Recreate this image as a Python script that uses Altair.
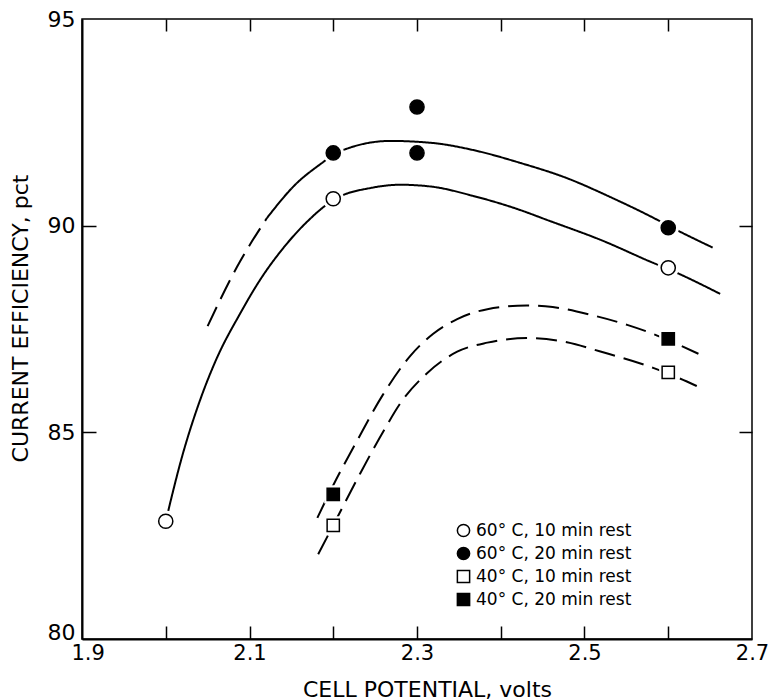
import altair as alt
import pandas as pd

FONT = "DejaVu Sans"

# ---------------- data ----------------
series_names = ["60° C, 10 min rest", "60° C, 20 min rest",
                "40° C, 10 min rest", "40° C, 20 min rest"]
series_shapes = ["circle", "circle", "square", "square"]
series_fills = ["white", "black", "white", "black"]
series_strokes = ["black", "black", "black", "black"]

# measured points
pts_60_10_x = [2.0, 2.2, 2.6]
pts_60_10_y = [82.85, 90.65, 88.98]
pts_60_20_x = [2.2, 2.3, 2.3, 2.6]
pts_60_20_y = [91.76, 92.87, 91.76, 89.95]
pts_40_10_x = [2.2, 2.6]
pts_40_10_y = [82.75, 86.45]
pts_40_20_x = [2.2, 2.6]
pts_40_20_y = [83.5, 87.26]
# points where the curve stops short of the symbol
gap_60_10 = [True, True, True]
gap_60_20 = [True, False, False, True]
gap_40_10 = [True, True]
gap_40_20 = [True, True]

# drawn curves
curve_60_10_x = [2.0, 2.02, 2.041, 2.06, 2.089, 2.113, 2.14, 2.169, 2.2, 2.247,
                 2.28, 2.319, 2.367, 2.423, 2.455, 2.52, 2.582, 2.6, 2.662]
curve_60_10_y = [82.85, 84.45, 85.78, 86.75, 87.88, 88.7, 89.45, 90.1, 90.62, 90.92,
                 90.99, 90.94, 90.72, 90.38, 90.14, 89.65, 89.1, 88.95, 88.35]
curve_60_20_dash_x = [2.05, 2.085, 2.121]
curve_60_20_dash_y = [87.57, 89.0, 90.19]
curve_60_20_x = [2.121, 2.155, 2.188, 2.2, 2.216, 2.268, 2.319, 2.367, 2.423,
                 2.479, 2.53, 2.587, 2.6, 2.653]
curve_60_20_y = [90.19, 91.0, 91.54, 91.72, 91.86, 92.05, 92.0, 91.83, 91.52,
                 91.15, 90.7, 90.14, 90.0, 89.47]
curve_40_10_x = [2.182, 2.2, 2.232, 2.262, 2.28, 2.312, 2.348, 2.384, 2.431,
                 2.479, 2.518, 2.582, 2.6, 2.634]
curve_40_10_y = [82.05, 82.75, 84.0, 85.1, 85.7, 86.43, 86.95, 87.17, 87.28,
                 87.18, 86.96, 86.56, 86.42, 86.12]
curve_40_20_x = [2.181, 2.2, 2.228, 2.259, 2.292, 2.319, 2.348, 2.384, 2.431,
                 2.462, 2.51, 2.551, 2.582, 2.6, 2.636]
curve_40_20_y = [82.93, 83.72, 84.78, 85.9, 86.85, 87.38, 87.74, 87.98, 88.07,
                 88.03, 87.83, 87.6, 87.38, 87.23, 86.9]

x_label_values = [1.9, 2.1, 2.3, 2.5, 2.7]
x_tick_values = [2.0, 2.1, 2.2, 2.3, 2.4, 2.5, 2.6]
y_label_values = [80, 85, 90, 95]
y_tick_values = [85, 90]

# ---------------- tables ----------------
def pts(xs, ys, name, gaps):
    return pd.DataFrame({"x": xs, "y": ys, "series": name, "gap": gaps,
                         "shape": series_shapes[series_names.index(name)]})

points = pd.concat([
    pts(pts_60_10_x, pts_60_10_y, series_names[0], gap_60_10),
    pts(pts_60_20_x, pts_60_20_y, series_names[1], gap_60_20),
    pts(pts_40_10_x, pts_40_10_y, series_names[2], gap_40_10),
    pts(pts_40_20_x, pts_40_20_y, series_names[3], gap_40_20),
], ignore_index=True)

def crv(xs, ys, name, style):
    return pd.DataFrame({"x": xs, "y": ys, "curve": name, "style": style})

curves = pd.concat([
    crv(curve_60_10_x, curve_60_10_y, "c60_10", "solid"),
    crv(curve_60_20_dash_x, curve_60_20_dash_y, "c60_20d", "dash"),
    crv(curve_60_20_x, curve_60_20_y, "c60_20", "solid"),
    crv(curve_40_10_x, curve_40_10_y, "c40_10", "dash"),
    crv(curve_40_20_x, curve_40_20_y, "c40_20", "dash"),
], ignore_index=True)

W, H = 670, 620
x_scale = alt.Scale(domain=[1.9, 2.7], nice=False, zero=False)
y_scale = alt.Scale(domain=[80, 95], nice=False, zero=False)

lines = alt.Chart(curves).mark_line(
    color="black", strokeWidth=2, interpolate="monotone"
).encode(
    x=alt.X("x:Q", scale=x_scale, axis=alt.Axis(
        values=x_label_values, format=".1f", ticks=False, grid=False,
        domain=True, domainColor="black", domainWidth=2,
        labelFontSize=21, labelFont=FONT, labelColor="black", labelPadding=3,
        labelFlush=False,
        labelAlign=alt.ExprRef("datum.value == 1.9 ? 'left' : 'center'"),
        labelOffset=alt.ExprRef("datum.value == 1.9 ? -11 : 0"),
        title="CELL POTENTIAL, volts", titleFont=FONT, titleFontSize=22,
        titleFontWeight="normal", titleColor="black", titleX=345, titleY=40)),
    y=alt.Y("y:Q", scale=y_scale, axis=alt.Axis(
        values=y_label_values, ticks=False, grid=False,
        domain=True, domainColor="black", domainWidth=2,
        labelFontSize=22, labelFont=FONT, labelColor="black", labelPadding=7,
        labelBaseline=alt.ExprRef("datum.value == 80 ? 'alphabetic' : 'middle'"),
        title="CURRENT EFFICIENCY, pct", titleFont=FONT, titleFontSize=22,
        titleFontWeight="normal", titleColor="black", titlePadding=15,
        titleY=299)),
    detail="curve:N",
    order="x:Q",
    strokeDash=alt.StrokeDash("style:N", scale=alt.Scale(
        domain=["solid", "dash"], range=[[1, 0], [21, 9]]), legend=None),
)

halo_c = alt.Chart(points).transform_filter(
    "datum.gap && datum.shape == 'circle'"
).mark_point(filled=True, color="white", opacity=1, shape="circle", size=460).encode(
    x=alt.X("x:Q", scale=x_scale, axis=alt.Axis(
        orient="top", offset=-H, values=x_tick_values, labels=False,
        domain=False, grid=False, ticks=True, tickSize=13, tickWidth=1.5,
        tickColor="black", title="")),
    y=alt.Y("y:Q", scale=y_scale, axis=alt.Axis(
        orient="right", offset=-W, values=y_tick_values, labels=False,
        domain=False, grid=False, ticks=True, tickSize=14, tickWidth=1.5,
        tickColor="black", title="")),
)

halo_s = alt.Chart(points).transform_filter(
    "datum.gap && datum.shape == 'square'"
).mark_point(filled=True, color="white", opacity=1, shape="square", size=330).encode(
    x=alt.X("x:Q", scale=x_scale, axis=alt.Axis(
        orient="bottom", offset=-H, values=x_tick_values, labels=False,
        domain=False, grid=False, ticks=True, tickSize=12, tickWidth=1.5,
        tickColor="black", title="")),
    y=alt.Y("y:Q", scale=y_scale, axis=alt.Axis(
        orient="left", offset=-W, values=y_tick_values, labels=False,
        domain=False, grid=False, ticks=True, tickSize=13, tickWidth=1.5,
        tickColor="black", title="")),
)

LX, LY = 373, 503
legend_def = alt.Legend(title=None, orient="none", legendX=LX, legendY=LY,
                        symbolStrokeColor="black", symbolStrokeWidth=1.5)
shape_enc = alt.Shape("series:N", scale=alt.Scale(domain=series_names, range=series_shapes),
                      legend=legend_def)
fill_enc = alt.Fill("series:N", scale=alt.Scale(domain=series_names, range=series_fills),
                    legend=legend_def)
stroke_enc = alt.Stroke("series:N", scale=alt.Scale(domain=series_names, range=series_strokes),
                        legend=legend_def)

def marker_layer(shape_name, size):
    return alt.Chart(points).transform_filter(
        f"datum.shape == '{shape_name}'"
    ).mark_point(filled=True, strokeWidth=1.5, opacity=1, size=size).encode(
        x=alt.X("x:Q", scale=x_scale, axis=None),
        y=alt.Y("y:Q", scale=y_scale, axis=None),
        shape=shape_enc,
        fill=fill_enc,
        stroke=stroke_enc,
    )

markers_c = marker_layer("circle", 200)
markers_s = marker_layer("square", 150)

chart = alt.layer(lines, halo_c, halo_s, markers_c, markers_s).resolve_axis(
    x="independent", y="independent"
).properties(
    width=W, height=H,
    autosize=alt.AutoSizeParams(type="none"),
    padding={"left": 82, "top": 19, "right": 21, "bottom": 61},
    background="white",
).configure_view(
    stroke="black", strokeWidth=1.5
).configure_legend(
    padding=0, labelFontSize=17, labelFont=FONT, labelColor="black",
    symbolStrokeColor="black", symbolStrokeWidth=1.5,
    symbolSize=150, rowPadding=4, labelOffset=4,
)

chart.save("out.html", embed_options={"renderer": "svg", "actions": False})
